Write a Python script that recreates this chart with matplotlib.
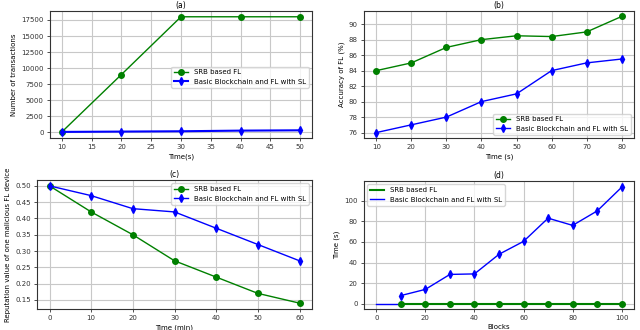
import numpy as np
import matplotlib
matplotlib.use("Agg")
import matplotlib.pyplot as plt

# data
a_x = [10, 20, 30, 40, 50]
a_srb = [50, 9000, 18000, 18000, 18000]
a_basic = [50, 100, 150, 250, 300]

b_x = [10, 20, 30, 40, 50, 60, 70, 80]
b_srb = [84, 85, 87, 88, 88.5, 88.4, 89, 91]
b_basic = [76, 77, 78, 80, 81, 84, 85, 85.5]

c_x = [0, 10, 20, 30, 40, 50, 60]
c_srb = [0.50, 0.42, 0.35, 0.27, 0.22, 0.17, 0.14]
c_basic = [0.50, 0.47, 0.43, 0.42, 0.37, 0.32, 0.27]

d_x = [0, 10, 20, 30, 40, 50, 60, 70, 80, 90, 100]
d_srb = [0, 0, 0, 0, 0, 0, 0, 0, 0, 0, 0]
d_basic = [8, 14, 28.5, 29, 48, 60.5, 83, 76, 90, 113]

lab1 = "SRB based FL"
lab2 = "Basic Blockchain and FL with SL"

fs = 5
plt.rcParams['font.size'] = fs
plt.rcParams['axes.edgecolor'] = '#333333'
plt.rcParams['axes.linewidth'] = 0.8

fig = plt.figure(figsize=(6.4, 3.3), dpi=100)
W, H = 640, 330

def box(l, t, r, b):
    return [l / W, 1 - b / H, (r - l) / W, (b - t) / H]

ax1 = fig.add_axes(box(50, 11, 312, 138))
ax2 = fig.add_axes(box(364, 11, 634, 138))
ax3 = fig.add_axes(box(37, 180, 312, 309))
ax4 = fig.add_axes(box(364, 181, 634, 309))

for ax in (ax1, ax2, ax3, ax4):
    ax.grid(True, color='#c8c8c8', linewidth=0.8)
    ax.set_axisbelow(True)
    ax.tick_params(length=2.5, width=0.6, pad=2, labelsize=fs, colors='#333333')

# (a)
ax1.plot(a_x, a_srb, color='green', marker='o', markersize=4, linewidth=1, label=lab1)
ax1.plot(a_x, a_basic, color='blue', marker='d', markersize=4, linewidth=1.5, label=lab2)
ax1.set_xticks(np.arange(10, 51, 5))
ax1.set_yticks(np.arange(0, 17501, 2500))
ax1.set_xlim(8, 52)
ax1.set_ylim(-900, 18900)
ax1.set_title("(a)", fontsize=5.5, pad=2)
ax1.set_xlabel("Time(s)", fontsize=fs, labelpad=2)
ax1.set_ylabel("Number of transactions", fontsize=fs, labelpad=3)
ax1.legend(loc='center right', fontsize=fs, bbox_to_anchor=(1.0, 0.48))

# (b)
ax2.plot(b_x, b_srb, color='green', marker='o', markersize=4, linewidth=1, label=lab1)
ax2.plot(b_x, b_basic, color='blue', marker='d', markersize=4, linewidth=1, label=lab2)
ax2.set_xticks(np.arange(10, 81, 10))
ax2.set_yticks(np.arange(76, 91, 2))
ax2.set_xlim(6.5, 83.5)
ax2.set_ylim(75.3, 91.7)
ax2.set_title("(b)", fontsize=5.5, pad=2)
ax2.set_xlabel("Time (s)", fontsize=fs, labelpad=2)
ax2.set_ylabel("Accuracy of FL (%)", fontsize=fs, labelpad=3)
ax2.legend(loc='lower right', fontsize=fs)

# (c)
ax3.plot(c_x, c_srb, color='green', marker='o', markersize=4, linewidth=1, label=lab1)
ax3.plot(c_x, c_basic, color='blue', marker='d', markersize=4, linewidth=1, label=lab2)
ax3.set_xticks(np.arange(0, 61, 10))
ax3.set_yticks(np.arange(0.15, 0.51, 0.05))
ax3.set_xlim(-3, 63)
ax3.set_ylim(0.122, 0.518)
ax3.set_title("(c)", fontsize=5.5, pad=2)
ax3.set_xlabel("Time (min)", fontsize=fs, labelpad=2)
ax3.set_ylabel("Reputation value of one malicious FL device", fontsize=fs, labelpad=3)
ax3.legend(loc='upper right', fontsize=fs)

# (d)
ax4.plot(d_x[:2], d_srb[:2], color='blue', linewidth=1)
ax4.plot(d_x[1:], d_srb[1:], color='green', linewidth=1.5, label=lab1)
ax4.plot(d_x[1:], d_srb[1:], color='green', marker='o', markersize=4, linestyle='none')
ax4.plot(d_x[1:], d_basic, color='blue', linewidth=1, label=lab2)
ax4.plot(d_x[1:], d_basic, color='blue', marker='d', markersize=4, linestyle='none')
ax4.set_xticks(np.arange(0, 101, 20))
ax4.set_yticks(np.arange(0, 101, 20))
ax4.set_xlim(-5, 105)
ax4.set_ylim(-5, 119)
ax4.set_title("(d)", fontsize=5.5, pad=2)
ax4.set_xlabel("Blocks", fontsize=fs, labelpad=2)
ax4.set_ylabel("Time (s)", fontsize=fs, labelpad=3)
ax4.legend(loc='upper left', fontsize=fs)

fig.savefig("out.png", dpi=100)
